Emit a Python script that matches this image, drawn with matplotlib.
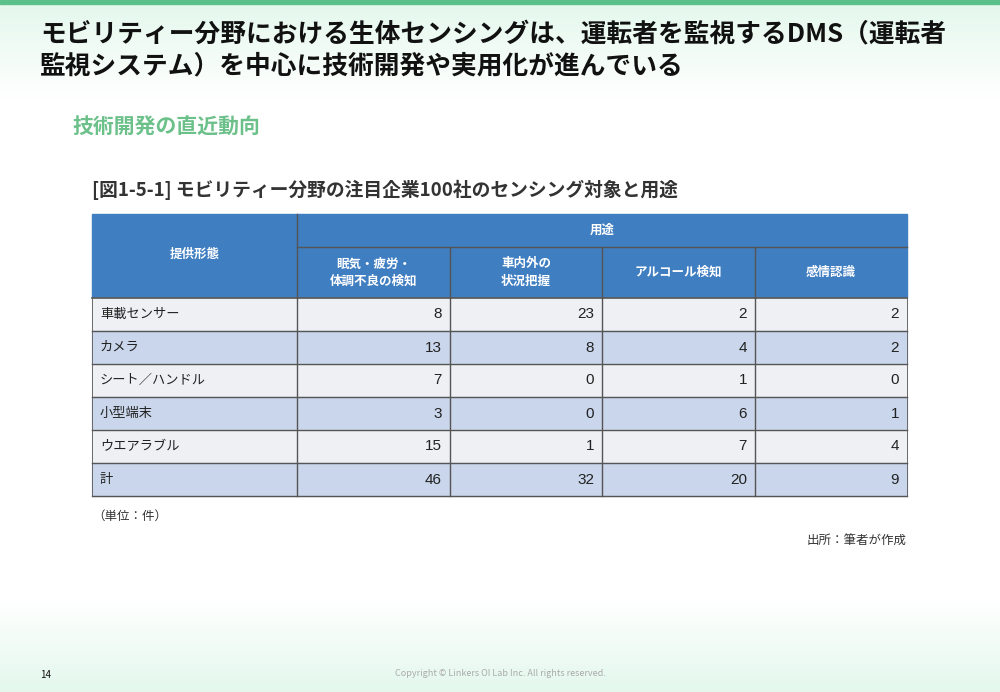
import matplotlib
matplotlib.use("Agg")
import matplotlib.pyplot as plt
from matplotlib.patches import Rectangle
import numpy as np

plt.rcParams["font.family"] = "Noto Sans CJK JP"

title = "モビリティー分野における生体センシングは、運転者を監視するDMS（運転者\n監視システム）を中心に技術開発や実用化が進んでいる"
subtitle = "技術開発の直近動向"
fig_title = "[図1-5-1] モビリティー分野の注目企業100社のセンシング対象と用途"
row_header = "提供形態"
group_header = "用途"
columns = ["眠気・疲労・\n体調不良の検知", "車内外の\n状況把握", "アルコール検知", "感情認識"]
categories = ["車載センサー", "カメラ", "シート／ハンドル", "小型端末", "ウエアラブル", "計"]
drowsiness = [8, 13, 7, 3, 15, 46]
situation = [23, 8, 0, 0, 1, 32]
alcohol = [2, 4, 1, 6, 7, 20]
emotion = [2, 2, 0, 1, 4, 9]

fig = plt.figure(figsize=(10, 6.92), dpi=100)
ax = fig.add_axes([0, 0, 1, 1])
ax.set_xlim(0, 1000); ax.set_ylim(692, 0); ax.axis("off")

top = np.linspace(0, 1, 100)[:, None]
grad = np.zeros((100, 1, 4)); grad[..., 0] = 0.88; grad[..., 1] = 0.97; grad[..., 2] = 0.92
grad[..., 3] = (1 - top) * 0.9
ax.imshow(grad, extent=(0, 1000, 100, 0), aspect="auto", zorder=0)
grad2 = grad.copy(); grad2[..., 3] = top * 0.9
ax.imshow(grad2, extent=(0, 1000, 692, 600), aspect="auto", zorder=0)
ax.add_patch(Rectangle((0, 0), 1000, 4, color="#5cc08a", zorder=1))

ax.text(40, 50, title, fontsize=18.5, fontweight="bold", va="center", linespacing=1.2, color="#111111")
ax.text(72, 127, subtitle, fontsize=15, fontweight="bold", color="#6cc08a", va="center")
ax.text(92, 190, fig_title, fontsize=13.5, fontweight="bold", color="#333333", va="center")

xs = [92, 297, 450, 602, 755, 907]
y0, y1, y2 = 214, 247, 298
rh = 33
blue = "#3f7ec1"; line = "#555555"
ax.add_patch(Rectangle((xs[0], y0), xs[-1]-xs[0], y2-y0, color=blue, zorder=2))
ax.plot([xs[1], xs[1]], [y0, y2], color=line, lw=1, zorder=3)
ax.plot([xs[1], xs[-1]], [y1, y1], color=line, lw=1, zorder=3)
for x in xs[2:-1]:
    ax.plot([x, x], [y1, y2], color=line, lw=1, zorder=3)
ax.text((xs[0]+xs[1])/2, (y0+y2)/2 - 2, row_header, color="white", fontsize=9, fontweight="bold", ha="center", va="center", zorder=4)
ax.text((xs[1]+xs[-1])/2, (y0+y1)/2, group_header, color="white", fontsize=9, fontweight="bold", ha="center", va="center", zorder=4)
for i, c in enumerate(columns):
    ax.text((xs[i+1]+xs[i+2])/2, (y1+y2)/2, c, color="white", fontsize=9, fontweight="bold", ha="center", va="center", linespacing=1.4, zorder=4)

data = [drowsiness, situation, alcohol, emotion]
for r, cat in enumerate(categories):
    ya = y2 + r*rh
    color = "#c9d6eb" if r % 2 == 1 or r == len(categories)-1 else "#eef0f4"
    ax.add_patch(Rectangle((xs[0], ya), xs[-1]-xs[0], rh, color=color, zorder=2))
    ax.plot([xs[0], xs[-1]], [ya+rh, ya+rh], color=line, lw=1, zorder=3)
    ax.text(xs[0]+8, ya+rh/2, cat, fontsize=9.5, va="center", color="#222222", zorder=4)
    for j, s in enumerate(data):
        ax.text(xs[j+2]-8, ya+rh/2, str(s[r]), fontsize=11, va="center", ha="right", color="#222222", zorder=4, family="Liberation Sans")
yb = y2 + rh*len(categories)
for x in xs[1:-1]:
    ax.plot([x, x], [y2, yb], color=line, lw=1, zorder=3)
ax.plot([xs[0], xs[-1]], [y2, y2], color=line, lw=1.2, zorder=3)
ax.plot([xs[0], xs[0]], [y2, yb], color=line, lw=0.6, zorder=3)
ax.plot([xs[-1], xs[-1]], [y2, yb], color=line, lw=0.6, zorder=3)

ax.text(92, 516, "（単位：件）", fontsize=9, va="center", color="#333333")
ax.text(907, 541, "出所：筆者が作成", fontsize=9, va="center", ha="right", color="#333333")
ax.text(40, 675, "14", fontsize=7, va="center", color="#111111")
ax.text(500, 673, "Copyright © Linkers OI Lab Inc. All rights reserved.", fontsize=6.5, va="center", ha="center", color="#aaaaaa")

fig.savefig("out.png", dpi=100)
